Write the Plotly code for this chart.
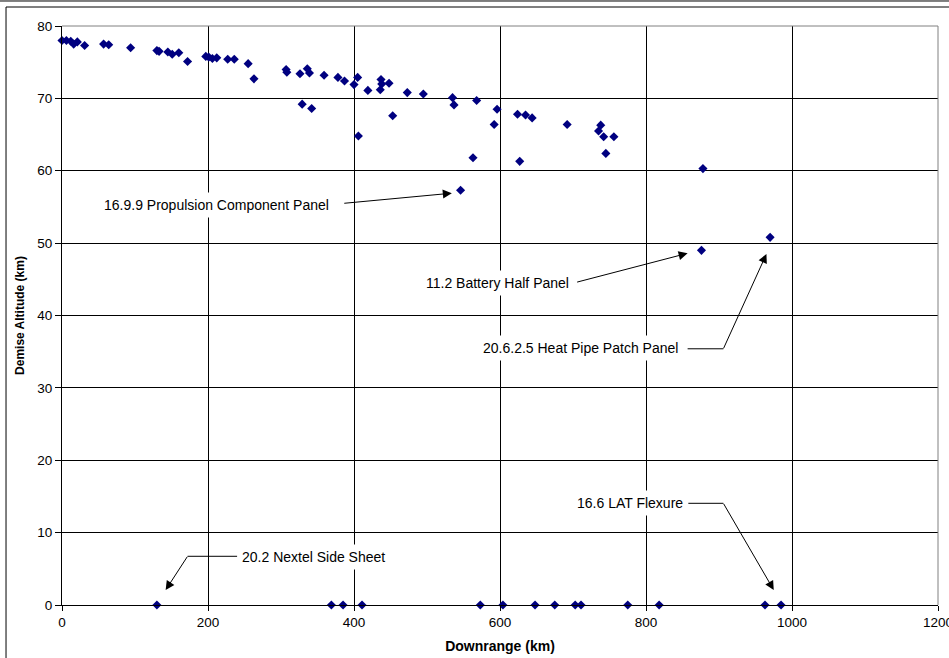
import plotly.graph_objects as go

# ---- data (Downrange km, Demise Altitude km) ----
downrange = [0, 6, 12, 16, 21, 31, 57, 64, 94, 130, 133, 145, 151, 160, 172,
             197, 201, 206, 212, 227, 236, 255, 263, 307, 308, 326, 336, 339,
             329, 342, 359, 378, 387, 400, 405, 406, 419, 437, 438, 436, 448,
             453, 473, 495, 535, 537, 568, 563, 546, 596, 592, 624, 635, 644,
             627, 692, 738, 735, 742, 756, 745, 878, 876, 970,
             130, 369, 385, 411, 573, 604, 648, 675, 703, 711, 775, 818, 963, 985]
altitude = [78.0, 78.0, 77.9, 77.5, 77.8, 77.3, 77.5, 77.4, 77.0, 76.6, 76.5,
            76.4, 76.1, 76.3, 75.1, 75.8, 75.7, 75.5, 75.6, 75.4, 75.4, 74.8,
            72.7, 74.0, 73.6, 73.4, 74.1, 73.5, 69.2, 68.6, 73.2, 72.9, 72.4,
            71.9, 72.9, 64.8, 71.1, 72.6, 72.0, 71.2, 72.1, 67.6, 70.8, 70.6,
            70.1, 69.1, 69.7, 61.8, 57.3, 68.5, 66.4, 67.8, 67.7, 67.3, 61.3,
            66.4, 66.3, 65.5, 64.7, 64.7, 62.4, 60.3, 49.0, 50.8,
            0, 0, 0, 0, 0, 0, 0, 0, 0, 0, 0, 0, 0, 0]

x_ticks = [0, 200, 400, 600, 800, 1000, 1200]
y_ticks = [0, 10, 20, 30, 40, 50, 60, 70, 80]

# label text, text position, arrow tail, arrow head, optional knee segment
labels = [
    dict(text="16.9.9 Propulsion Component Panel", tx=211, ty=55.3,
         tail=(386, 55.5), head=(534, 56.9), seg=None),
    dict(text="11.2 Battery Half Panel", tx=596, ty=44.45,
         tail=(705, 44.6), head=(857, 48.6), seg=None),
    dict(text="20.6.2.5 Heat Pipe Patch Panel", tx=710, ty=35.5,
         tail=(906, 35.4), head=(965, 48.5), seg=((857, 35.4), (906, 35.4))),
    dict(text="16.6 LAT Flexure", tx=778, ty=14.05,
         tail=(906, 14.05), head=(975, 2.07), seg=((858, 14.05), (906, 14.05))),
    dict(text="20.2 Nextel Side Sheet", tx=345, ty=6.6,
         tail=(172, 6.73), head=(142, 2.07), seg=((240, 6.73), (172, 6.73))),
]

FONT = "Liberation Sans, Arial, sans-serif"

fig = go.Figure()
fig.add_trace(go.Scatter(
    x=downrange, y=altitude, mode="markers",
    marker=dict(symbol="diamond", size=7, color="#000080", line=dict(width=0)),
    cliponaxis=False, showlegend=False))

annotations = []
shapes = []
for lb in labels:
    annotations.append(dict(
        x=lb["tx"], y=lb["ty"], xref="x", yref="y", text=lb["text"],
        showarrow=False, font=dict(family=FONT, size=14, color="black"),
        bgcolor="white", borderpad=4,
        xanchor="center", yanchor="middle"))
    annotations.append(dict(
        x=lb["head"][0], y=lb["head"][1], xref="x", yref="y",
        ax=lb["tail"][0], ay=lb["tail"][1], axref="x", ayref="y",
        text="", showarrow=True, arrowhead=2, arrowsize=1.8, arrowwidth=1,
        arrowcolor="black", borderpad=0, standoff=0, startstandoff=0))
    if lb["seg"]:
        (x0, y0), (x1, y1) = lb["seg"]
        shapes.append(dict(type="line", xref="x", yref="y", x0=x0, y0=y0,
                           x1=x1, y1=y1, line=dict(color="black", width=1)))

# plot-area border (grey top and right)
shapes.append(dict(type="line", xref="paper", yref="paper", x0=0, x1=1, y0=1, y1=1,
                   line=dict(color="#808080", width=1), layer="above"))
shapes.append(dict(type="line", xref="paper", yref="paper", x0=1, x1=1, y0=0, y1=1,
                   line=dict(color="#808080", width=1), layer="above"))
# outer frame lines
shapes.append(dict(type="line", xref="paper", yref="paper", x0=-0.08, x1=1.02,
                   y0=1.0432, y1=1.0432, line=dict(color="black", width=1)))
shapes.append(dict(type="line", xref="paper", yref="paper", x0=-0.0639, x1=1.02,
                   y0=1.0328, y1=1.0328, line=dict(color="black", width=1)))
shapes.append(dict(type="line", xref="paper", yref="paper", x0=-0.0639, x1=-0.0639,
                   y0=1.0328, y1=-0.1, line=dict(color="black", width=1)))

fig.update_layout(
    width=949, height=658,
    margin=dict(l=62, r=11, t=26, b=53, autoexpand=False),
    paper_bgcolor="white", plot_bgcolor="white",
    font=dict(family=FONT, size=13.5, color="black"),
    annotations=annotations, shapes=shapes,
    xaxis=dict(range=[0, 1200], tickvals=x_ticks, ticktext=[str(v) for v in x_ticks],
               showgrid=True, gridcolor="black", gridwidth=1,
               showline=True, linecolor="black", linewidth=1,
               ticks="outside", ticklen=5, tickcolor="black",
               zeroline=False, automargin=False, ticklabeloverflow="allow",
               tickfont=dict(size=13.5),
               title=dict(text="<b>Downrange (km)</b>", font=dict(size=14), standoff=11)),
    yaxis=dict(range=[0, 80], tickvals=y_ticks, ticktext=[str(v) for v in y_ticks],
               showgrid=True, gridcolor="black", gridwidth=1,
               showline=True, linecolor="black", linewidth=1,
               ticks="outside", ticklen=6, tickcolor="black",
               zeroline=False, automargin=False,
               tickfont=dict(size=13.5),
               title=dict(text="<b>Demise Altitude (km)</b>", font=dict(size=12), standoff=10)),
)

fig.write_html("out.html")
